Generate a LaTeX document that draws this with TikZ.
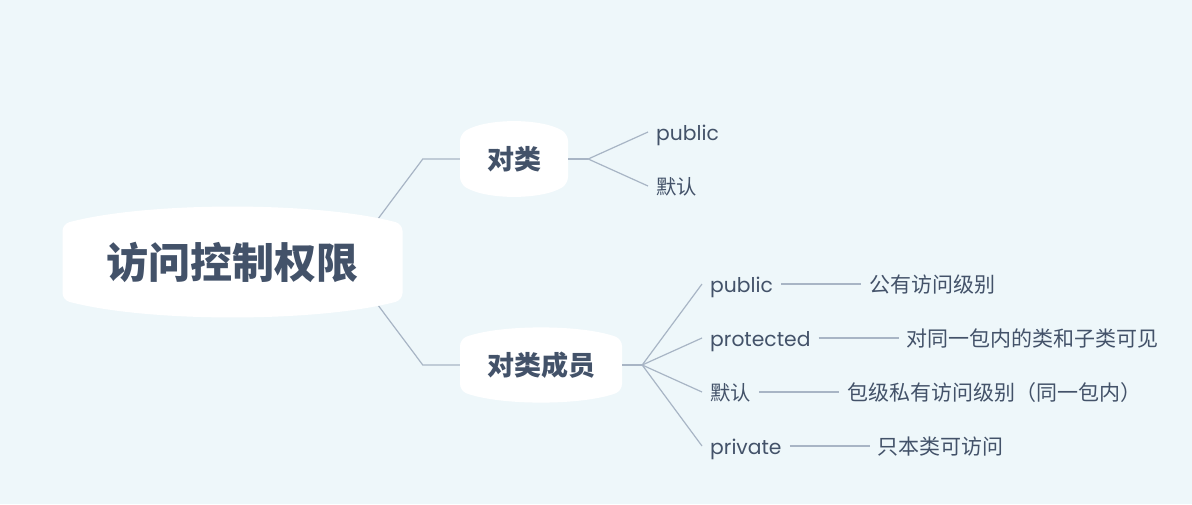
\documentclass[tikz,border=0pt]{standalone}
\usepackage{fontspec}
\setmainfont{Poppins}
\newfontfamily\cjk{Noto Sans CJK SC}
\usetikzlibrary{positioning,calc}

\definecolor{bgblue}{HTML}{EEF7FA}
\definecolor{inkblue}{HTML}{435269}
\definecolor{linegray}{HTML}{A8B5C5}

\pgfdeclarelayer{bg}
\pgfdeclarelayer{edges}
\pgfsetlayers{bg,edges,main}

% white topic shape: centre x, centre y, half width, half side height, half bulge height
\newcommand{\topicshape}[5]{%
  \fill[white,rounded corners=7pt] (#1-#3,#2) -- (#1-#3,#2-#4)
    .. controls (#1-0.5*#3,{#2+(#4-4*#5)/3}) and (#1+0.5*#3,{#2+(#4-4*#5)/3}) .. (#1+#3,#2-#4)
    -- (#1+#3,#2+#4)
    .. controls (#1+0.5*#3,{#2-(#4-4*#5)/3}) and (#1-0.5*#3,{#2-(#4-4*#5)/3}) .. (#1-#3,#2+#4)
    -- cycle;}

\begin{document}
\begin{tikzpicture}[
  x=1pt,y=-1pt,
  topic/.style={font=\cjk\bfseries,text=inkblue,inner sep=0pt},
  leaf/.style={font=\fontsize{20.3}{24}\selectfont,text=inkblue,inner xsep=8pt,inner ysep=0pt,
    text height=19pt,text depth=3pt,anchor=west},
  note/.style={leaf,font=\cjk\fontsize{21}{25}\selectfont},
  branch/.style={draw=linegray,line width=1.2pt}
]
\begin{pgfonlayer}{bg}
  \fill[bgblue] (0,0) rectangle (1192,504);
\end{pgfonlayer}

% ---------- topics
\topicshape{232.5}{262}{170}{38}{55}
\node[topic,font=\cjk\bfseries\fontsize{42}{50}\selectfont,minimum width=340pt] (root) at (232.5,262) {访问控制权限};

\topicshape{514}{159}{54}{25}{37}
\node[topic,font=\cjk\bfseries\fontsize{27}{32}\selectfont,minimum width=108pt] (cls) at (514,159) {对类};

\topicshape{541}{365}{81}{26}{37}
\node[topic,font=\cjk\bfseries\fontsize{27}{32}\selectfont,minimum width=162pt] (mem) at (541,365) {对类成员};

\begin{pgfonlayer}{edges}
  \draw[branch] ([xshift=-57pt]root.east) -- ([xshift=-37pt]cls.west) -- (cls.west);
  \draw[branch] ([xshift=-57pt]root.east) -- ([xshift=-37pt]mem.west) -- (mem.west);
\end{pgfonlayer}

% ---------- class level
\coordinate (cls-fork) at ([xshift=20pt]cls.east);
\draw[branch] (cls.east) -- (cls-fork);
\foreach \n/\y/\t in {cpub/132/public, cdflt/186/{\cjk 默认}}{
  \node[leaf] (\n) at (648,\y) {\t};
  \draw[branch] (cls-fork) -- (\n.west);
}

% ---------- member level
\coordinate (mem-fork) at ([xshift=20pt]mem.east);
\draw[branch] (mem.east) -- (mem-fork);
\foreach \n/\y/\t/\d in {pub/284/public/公有访问级别, prot/338/protected/对同一包内的类和子类可见,
    dflt/392/{\cjk 默认}/包级私有访问级别（同一包内）, priv/446/private/只本类可访问}{
  \node[leaf] (\n) at (702,\y) {\t};
  \node[note,right=80pt of \n] (\n-note) {\d};
  \draw[branch] (\n.east) -- (\n-note.west);
  \draw[branch] (mem-fork) -- (\n.west);
}
\end{tikzpicture}
\end{document}
